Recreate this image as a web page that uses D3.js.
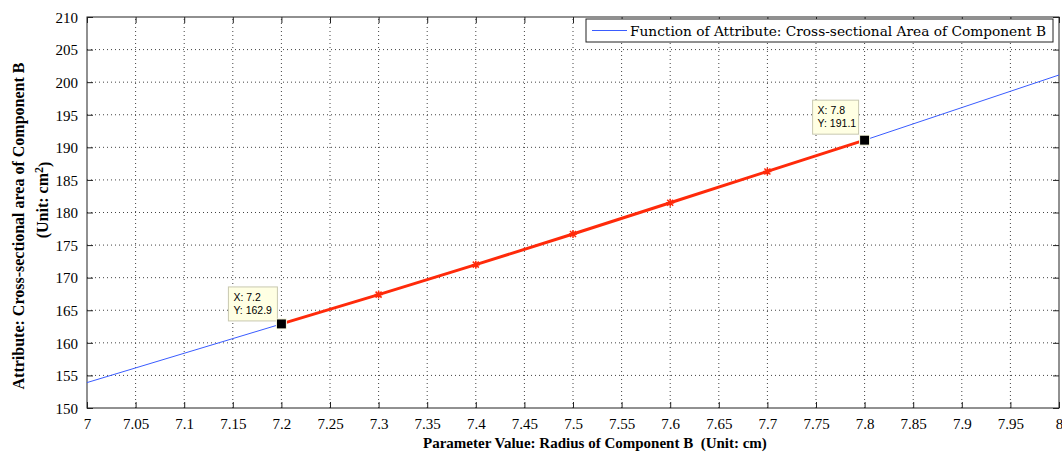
<!DOCTYPE html>
<html>
<head>
<meta charset="utf-8">
<script src="https://cdn.jsdelivr.net/npm/d3@7"></script>
<style>
body { margin: 0; background: #fff; }
svg text { font-family: "Liberation Serif", "DejaVu Serif", serif; }
</style>
</head>
<body>
<script>
// radius (cm) and cross-sectional area (cm^2)
var radius = [7.0, 7.1, 7.2, 7.3, 7.4, 7.5, 7.6, 7.7, 7.8, 7.9, 8.0]
var area = [153.9, 158.4, 162.9, 167.4, 172.0, 176.7, 181.5, 186.3, 191.1, 196.1, 201.1]
// highlighted range
var sel_radius = [7.2, 7.3, 7.4, 7.5, 7.6, 7.7, 7.8]
var sel_area = [162.9, 167.4, 172.0, 176.7, 181.5, 186.3, 191.1]
// data tips
var tip_x = [7.2, 7.8]
var tip_y = [162.9, 191.1]
var x_ticks = d3.range(0, 21).map(function(i){ return +(7 + i*0.05).toFixed(2) })
var y_ticks = d3.range(150, 211, 5)

var serif = "Liberation Serif, DejaVu Serif, serif"
var sans = "Liberation Sans, Arial, sans-serif"

var w = 1062, h = 457
var margin = {left: 87, right: 3, top: 17, bottom: 49}

var svg = d3.select("body").append("svg")
.attr("width", w)
.attr("height", h)
.attr("font-family", serif)

var x = d3.scaleLinear().domain([7, 8]).range([margin.left, w - margin.right])
var y = d3.scaleLinear().domain([150, 210]).range([h - margin.bottom, margin.top])

// grid
svg.append("g").selectAll("line").data(x_ticks.slice(1, -1)).enter().append("line")
.attr("x1", function(d){ return x(d) }).attr("x2", function(d){ return x(d) })
.attr("y1", y(150)).attr("y2", y(210))
.attr("stroke", "#444").attr("stroke-width", 1).attr("stroke-dasharray", "1,3")
svg.append("g").selectAll("line").data(y_ticks.slice(1, -1)).enter().append("line")
.attr("y1", function(d){ return y(d) }).attr("y2", function(d){ return y(d) })
.attr("x1", x(7)).attr("x2", x(8))
.attr("stroke", "#444").attr("stroke-width", 1).attr("stroke-dasharray", "1,3")

// axes
var xb = svg.append("g").attr("transform", "translate(0," + y(150) + ")")
.call(d3.axisBottom(x).tickValues(x_ticks).tickSizeInner(-6).tickSizeOuter(0).tickPadding(10)
.tickFormat(function(d){ return d3.format("")(d) }))
var xt = svg.append("g").attr("transform", "translate(0," + y(210) + ")")
.call(d3.axisTop(x).tickValues(x_ticks).tickSizeInner(-6).tickSizeOuter(0).tickFormat(""))
var yl = svg.append("g").attr("transform", "translate(" + x(7) + ",0)")
.call(d3.axisLeft(y).tickValues(y_ticks).tickSizeInner(-6).tickSizeOuter(0).tickPadding(9))
var yr = svg.append("g").attr("transform", "translate(" + x(8) + ",0)")
.call(d3.axisRight(y).tickValues(y_ticks).tickSizeInner(-6).tickSizeOuter(0).tickFormat(""))
;[xb, xt, yl, yr].forEach(function(a){
a.attr("font-family", serif).attr("font-size", 15)
a.select(".domain").remove()
a.selectAll("line").attr("stroke", "#222")
a.selectAll("text").attr("fill", "#000")
})
yl.selectAll("text").attr("dy", "0.35em")

svg.append("rect")
.attr("x", x(7)).attr("y", y(210))
.attr("width", x(8) - x(7)).attr("height", y(150) - y(210))
.attr("fill", "none").attr("stroke", "#222").attr("stroke-width", 1)

// blue function curve
var line = d3.line().x(function(d){ return x(d[0]) }).y(function(d){ return y(d[1]) })
svg.append("path")
.datum(d3.zip(radius, area))
.attr("d", line)
.attr("fill", "none").attr("stroke", "#3a5cff").attr("stroke-width", 1)

// red highlighted segment
var sel = d3.zip(sel_radius, sel_area)
svg.append("path")
.datum(sel)
.attr("d", line)
.attr("fill", "none").attr("stroke", "#ff2a0a").attr("stroke-width", 3)
svg.append("g").selectAll("path").data(sel.slice(1, -1)).enter().append("path")
.attr("transform", function(d){ return "translate(" + x(d[0]) + "," + y(d[1]) + ")" })
.attr("d", "M-4,0H4M0,-4V4M-3,-3L3,3M-3,3L3,-3")
.attr("stroke", "#ff2a0a").attr("stroke-width", 1.5)

// data tips
var tips = d3.zip(tip_x, tip_y)
var tip_g = svg.append("g").selectAll("g").data(tips).enter().append("g")
.attr("transform", function(d){ return "translate(" + x(d[0]) + "," + y(d[1]) + ")" })
tip_g.append("rect")
.attr("x", function(d, i){ return i == 0 ? -53 : -52 })
.attr("y", function(d, i){ return i == 0 ? -37 : -40 })
.attr("width", function(d, i){ return i == 0 ? 49 : 46 })
.attr("height", 34)
.attr("fill", "#ffffe3").attr("stroke", "#c8c8b0").attr("stroke-width", 1)
tip_g.append("text")
.attr("x", function(d, i){ return i == 0 ? -48 : -47 })
.attr("y", function(d, i){ return i == 0 ? -23 : -26 })
.attr("font-family", sans).style("font-family", sans)
.attr("font-size", 10.5)
.text(function(d){ return "X: " + d[0] })
tip_g.append("text")
.attr("x", function(d, i){ return i == 0 ? -48 : -47 })
.attr("y", function(d, i){ return i == 0 ? -10 : -13 })
.attr("font-family", sans).style("font-family", sans)
.attr("font-size", 10.5)
.text(function(d){ return "Y: " + d3.format(".1f")(d[1]) })
tip_g.append("rect")
.attr("x", -5).attr("y", -5).attr("width", 10).attr("height", 10)
.attr("fill", "#000").attr("stroke", "#ffffe3").attr("stroke-width", 1)

// legend
var lg = svg.append("g")
lg.append("rect")
.attr("x", 586).attr("y", 19).attr("width", 467).attr("height", 23)
.attr("fill", "#fff").attr("stroke", "#222").attr("stroke-width", 1)
lg.append("line")
.attr("x1", 592).attr("x2", 627).attr("y1", 30.5).attr("y2", 30.5)
.attr("stroke", "#3a5cff").attr("stroke-width", 1)
lg.append("text")
.attr("x", 630).attr("y", 35.5)
.attr("font-family", "DejaVu Serif, serif").style("font-family", "DejaVu Serif, serif")
.attr("font-size", 13.5)
.attr("textLength", 416).attr("lengthAdjust", "spacingAndGlyphs")
.text("Function of Attribute: Cross-sectional Area of Component B")

// axis labels
svg.append("text")
.attr("x", 423).attr("y", 448)
.style("white-space", "pre")
.attr("font-size", 15).attr("font-weight", "bold")
.text("Parameter Value: Radius of Component B  (Unit: cm)")
svg.append("text")
.attr("transform", "translate(24,226) rotate(-90)")
.attr("text-anchor", "middle")
.attr("font-size", 16).attr("font-weight", "bold")
.text("Attribute: Cross-sectional area of Component B")
var yl2 = svg.append("text")
.attr("transform", "translate(48,200) rotate(-90)")
.attr("text-anchor", "middle")
.attr("font-size", 16).attr("font-weight", "bold")
yl2.append("tspan").text("(Unit: cm")
yl2.append("tspan").attr("dy", "-0.45em").attr("font-size", 12).text("2")
yl2.append("tspan").attr("dy", "0.45em").text(")")
</script>
</body>
</html>
